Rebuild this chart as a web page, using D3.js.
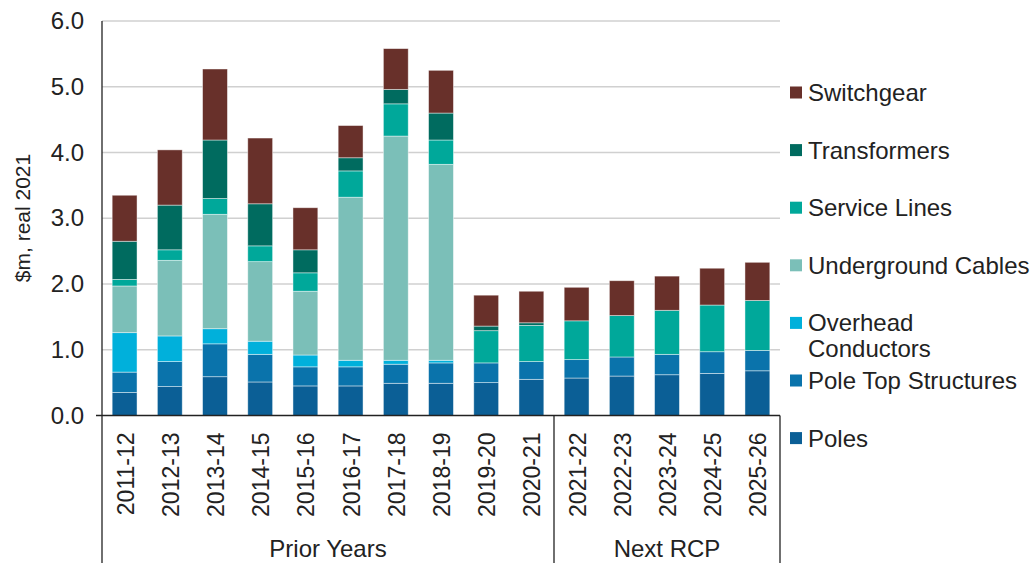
<!DOCTYPE html>
<html>
<head>
<meta charset="utf-8">
<script src="https://cdn.jsdelivr.net/npm/d3@7"></script>
<style>
  html, body { margin: 0; padding: 0; background: #fff; }
  svg { display: block; font-family: "Liberation Sans", Arial, sans-serif; }
</style>
</head>
<body>
<svg id="chart" width="1035" height="565"></svg>
<script>
// Financial years, split into historical and forecast periods
const categories = ["2011-12","2012-13","2013-14","2014-15","2015-16","2016-17","2017-18",
                    "2018-19","2019-20","2020-21","2021-22","2022-23","2023-24","2024-25","2025-26"];
const groups = [
  { label: "Prior Years", from: "2011-12", to: "2020-21" },
  { label: "Next RCP",    from: "2021-22", to: "2025-26" }
];

// Expenditure by asset class, $m real 2021 (bottom of stack first)
const poles              = [0.35,0.44,0.59,0.51,0.45,0.45,0.49,0.49,0.50,0.55,0.57,0.60,0.62,0.64,0.68];
const poleTopStructures  = [0.31,0.38,0.50,0.42,0.29,0.29,0.29,0.31,0.30,0.27,0.28,0.29,0.31,0.33,0.31];
const overheadConductors = [0.60,0.39,0.23,0.20,0.18,0.10,0.06,0.04,0.00,0.00,0.00,0.00,0.00,0.00,0.00];
const undergroundCables  = [0.71,1.15,1.74,1.21,0.97,2.48,3.41,2.98,0.00,0.00,0.00,0.00,0.00,0.00,0.00];
const serviceLines       = [0.10,0.16,0.24,0.24,0.28,0.40,0.49,0.37,0.49,0.55,0.59,0.63,0.67,0.71,0.76];
const transformers       = [0.58,0.68,0.89,0.64,0.35,0.20,0.22,0.41,0.07,0.04,0.00,0.00,0.00,0.00,0.00];
const switchgear         = [0.70,0.84,1.08,1.00,0.64,0.49,0.62,0.65,0.47,0.48,0.51,0.53,0.52,0.56,0.58];

const yTicks = [0, 1, 2, 3, 4, 5, 6];

const series = [
  { key: "poles",  name: "Poles",                  values: poles,              color: "#0B5F96" },
  { key: "pts",    name: "Pole Top Structures",    values: poleTopStructures,  color: "#0A73AB" },
  { key: "oh",     name: ["Overhead","Conductors"],values: overheadConductors, color: "#00B0DB" },
  { key: "ug",     name: "Underground Cables",     values: undergroundCables,  color: "#7BBFB8" },
  { key: "svc",    name: "Service Lines",          values: serviceLines,       color: "#00A89A" },
  { key: "tx",     name: "Transformers",           values: transformers,       color: "#006B5F" },
  { key: "sw",     name: "Switchgear",             values: switchgear,         color: "#68302A" }
];

// Table for the stack layout
const table = categories.map((c, i) => {
  const row = { category: c };
  series.forEach(s => { row[s.key] = s.values[i]; });
  return row;
});

const svg = d3.select("#chart");
const plot = { left: 102, right: 780, top: 21, bottom: 415.5 };

const x = d3.scaleBand().domain(categories).range([plot.left, plot.right])
  .paddingInner(0.45).paddingOuter(0.225);
const y = d3.scaleLinear().domain([0, 6]).range([plot.bottom, plot.top]);

// Gridlines
svg.append("g").selectAll("line").data(yTicks.filter(t => t > 0)).join("line")
  .attr("x1", plot.left).attr("x2", plot.right)
  .attr("y1", d => y(d)).attr("y2", d => y(d))
  .attr("stroke", "#D0D0D0").attr("stroke-width", 1.6);

// Stacked bars
const stack = d3.stack().keys(series.map(s => s.key));
const stacked = stack(table);

svg.append("g").selectAll("g").data(stacked).join("g")
  .attr("fill", (d, i) => series[i].color)
  .selectAll("rect").data(d => d.filter(p => p[1] - p[0] > 0)).join("rect")
  .attr("x", d => x(d.data.category))
  .attr("width", x.bandwidth())
  .attr("y", d => y(d[1]))
  .attr("height", d => y(d[0]) - y(d[1]))
  .attr("stroke", "#ffffff").attr("stroke-opacity", 0.55).attr("stroke-width", 0.8);

// Y axis
const yAxis = d3.axisLeft(y).tickValues(yTicks).tickFormat(d3.format(".1f"))
  .tickSize(0).tickPadding(18);
const yg = svg.append("g").attr("transform", `translate(${plot.left},0)`).call(yAxis);
yg.select(".domain").remove();
yg.selectAll("text").attr("font-size", 24).attr("fill", "#222")
  .attr("font-family", "Liberation Sans, Arial, sans-serif");

svg.append("line").attr("x1", plot.left).attr("x2", plot.left)
  .attr("y1", plot.top).attr("y2", 563).attr("stroke", "#222").attr("stroke-width", 1.3);

// Baseline
svg.append("line").attr("x1", plot.left - 6).attr("x2", plot.right)
  .attr("y1", plot.bottom).attr("y2", plot.bottom).attr("stroke", "#222").attr("stroke-width", 1.3);

// Axis title
svg.append("text")
  .attr("transform", `translate(30,218) rotate(-90)`)
  .attr("text-anchor", "middle")
  .attr("font-size", 21).attr("fill", "#222")
  .text("$m, real 2021");

// Category labels
const xAxis = d3.axisBottom(x).tickSize(0).tickPadding(0);
const xg = svg.append("g").attr("transform", `translate(0,${plot.bottom})`).call(xAxis);
xg.select(".domain").remove();
xg.selectAll("text")
  .attr("font-size", 23).attr("fill", "#222")
  .attr("font-family", "Liberation Sans, Arial, sans-serif")
  .attr("text-anchor", "end")
  .attr("dy", "0.35em")
  .attr("transform", "translate(1,17) rotate(-90)")
  .attr("y", 0).attr("x", 0);

// Group separators and labels
groups.forEach(g => {
  const x0 = x(g.from) - x.step() * x.paddingInner() / 2;
  const x1 = x(g.to) + x.bandwidth() + x.step() * x.paddingInner() / 2;
  svg.append("line").attr("x1", x1).attr("x2", x1)
    .attr("y1", plot.bottom).attr("y2", 563).attr("stroke", "#222").attr("stroke-width", 1.3);
  svg.append("text")
    .attr("x", (x0 + x1) / 2).attr("y", 557)
    .attr("text-anchor", "middle").attr("font-size", 24).attr("fill", "#222")
    .text(g.label);
});

// Legend, top entry = top of stack
const legend = svg.append("g");
const legendItems = series.slice().reverse();
legendItems.forEach((s, i) => {
  const cy = 92.5 + i * 57.6;
  legend.append("rect").attr("x", 790).attr("y", cy - 6).attr("width", 12).attr("height", 12)
    .attr("fill", s.color);
  const lines = Array.isArray(s.name) ? s.name : [s.name];
  const t = legend.append("text").attr("x", 808).attr("y", cy + 8.5)
    .attr("font-size", 24).attr("fill", "#222");
  lines.forEach((ln, j) => {
    t.append("tspan").attr("x", 808).attr("dy", j === 0 ? 0 : 26).text(ln);
  });
});
</script>
</body>
</html>
